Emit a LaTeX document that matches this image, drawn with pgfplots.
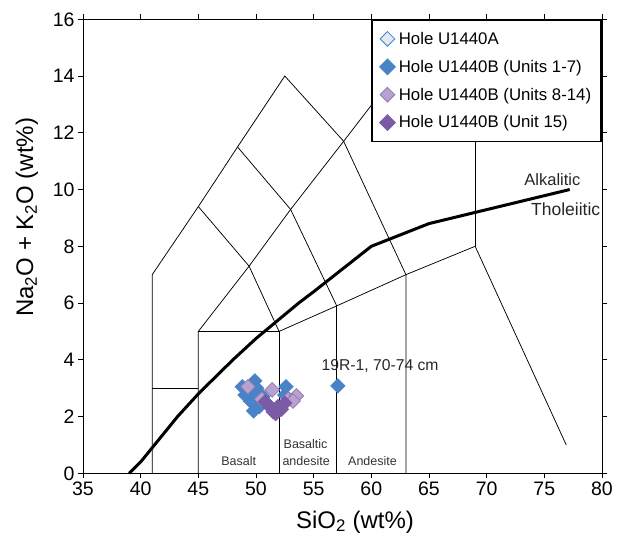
\documentclass[border=0pt]{standalone}
\usepackage{pgfplots}
\pgfplotsset{compat=1.18}
\usepackage{fontspec}
\setmainfont{Liberation Sans}
\definecolor{cblue}{HTML}{4783C6}
\definecolor{clpur}{HTML}{B7A2CF}
\definecolor{clpuredge}{HTML}{9179B4}
\definecolor{cdpur}{HTML}{7B5BA5}
\definecolor{cpale}{HTML}{E1E9F5}
\begin{document}
\begin{tikzpicture}
\begin{axis}[
  scale only axis,
  width=519pt, height=454pt,
  xmin=35, xmax=80, ymin=0, ymax=16,
  xtick={35,40,...,80}, ytick={0,2,...,16},
  tick align=outside, major tick length=5pt,
  tick style={black, line width=0.8pt},
  axis line style={line width=0.9pt},
  /pgf/number format/assume math mode=true,
  ticklabel style={font=\fontsize{19.5}{21}\selectfont},
  xlabel={SiO\textsubscript{2} (wt\%)},
  ylabel={Na\textsubscript{2}O + K\textsubscript{2}O (wt\%)},
  label style={font=\fontsize{24}{26}\selectfont},
  xlabel style={at={(axis description cs:0.524,-0.107)}, anchor=center},
  ylabel style={at={(axis description cs:-0.108,0.564)}, anchor=center, rotate=0},
  legend style={at={(1,1)}, anchor=north east, draw=black, line width=1.6pt, fill=white,
    font=\fontsize{16.8}{19}\selectfont, row sep=10.2pt, column sep=2pt, inner xsep=8pt, inner ysep=10pt},
  legend cell align=left,
  clip=false,
]
% TAS field boundaries
\addplot[black, line width=0.75pt, forget plot] coordinates {(41,0)(41,7)(45,9.4)(48.4,11.5)(52.5,14)(57.6,11.7)(63,7)(63,0)};
\addplot[black, line width=0.75pt, forget plot] coordinates {(45,0)(45,5)(49.4,7.3)(53,9.3)(57.6,11.7)(61,13.5)};
\addplot[black, line width=0.75pt, forget plot] coordinates {(41,3)(45,3)};
\addplot[black, line width=0.75pt, forget plot] coordinates {(45,9.4)(49.4,7.3)(52,5)};
\addplot[black, line width=0.75pt, forget plot] coordinates {(48.4,11.5)(53,9.3)(57,5.9)};
\addplot[black, line width=0.75pt, forget plot] coordinates {(45,5)(52,5)(52,0)};
\addplot[black, line width=0.75pt, forget plot] coordinates {(52,5)(57,5.9)(63,7)(69,8)(76.9,1)};
\addplot[black, line width=0.75pt, forget plot] coordinates {(57,0)(57,5.9)};
\addplot[black, line width=0.75pt, forget plot] coordinates {(69,8)(69,13)};
% Alkalic / tholeiitic divide
\addplot[black, line width=3pt, forget plot] coordinates {(39,0)(40,0.4)(43.2,2)(45,2.8)(48,4)(50,4.75)(53.7,6)(55,6.4)(60,8)(65,8.8)(77.2,10)};
% data
\addplot[only marks, mark=square*, mark size=5.2pt, mark options={rotate=45, fill=cpale, draw=cblue, line width=0.8pt}]
  coordinates {(49.6,2.8)};
\addlegendentry{Hole U1440A}
\addplot[only marks, mark=square*, mark size=5.2pt, mark options={rotate=45, fill=cblue, draw=cblue}]
  coordinates {(48.8,3.05)(49.9,3.26)(50.06,3.0)(49.05,2.76)(49.2,2.95)(49.6,2.85)(49.5,2.55)(49.9,2.45)(49.8,2.2)(50.3,2.35)(50.6,2.7)(52.6,3.05)(52.5,2.76)(57.1,3.08)};
\addlegendentry{Hole U1440B (Units 1-7)}
\addplot[only marks, mark=square*, mark size=5.2pt, mark options={rotate=45, fill=clpur, draw=clpuredge, line width=0.8pt}]
  coordinates {(49.3,3.05)(51.4,2.94)(50.5,2.61)(52.8,2.61)(53.5,2.73)(53.2,2.55)};
\addlegendentry{Hole U1440B (Units 8-14)}
\addplot[only marks, mark=square*, mark size=5.2pt, mark options={rotate=45, fill=cdpur, draw=cdpur}]
  coordinates {(51.5,2.17)(51.07,2.41)(51.9,2.35)(52.5,2.47)(50.8,2.52)(51.3,2.3)(52.2,2.25)(51.7,2.1)};
\addlegendentry{Hole U1440B (Unit 15)}
% annotations
\node[font=\fontsize{15.7}{17}\selectfont, text=black!85] at (axis cs:60.76,3.78) {19R-1, 70-74 cm};
\node[font=\fontsize{12.5}{14}\selectfont, text=black!80, anchor=base] at (axis cs:48.5,0.29) {Basalt};
\node[font=\fontsize{12.5}{14}\selectfont, text=black!80, anchor=base] at (axis cs:54.3,0.89) {Basaltic};
\node[font=\fontsize{12.5}{14}\selectfont, text=black!80, anchor=base] at (axis cs:54.35,0.29) {andesite};
\node[font=\fontsize{12.5}{14}\selectfont, text=black!80, anchor=base] at (axis cs:60.1,0.29) {Andesite};
\node[font=\fontsize{16.5}{18}\selectfont, text=black!85, anchor=base] at (axis cs:75.7,10.14) {Alkalitic};
\node[font=\fontsize{17.5}{19}\selectfont, text=black!85, anchor=base] at (axis cs:76.85,9.1) {Tholeiitic};
\end{axis}
\path ([xshift=-83pt,yshift=-68.7pt]current axis.south west) rectangle ([xshift=16pt,yshift=19.3pt]current axis.north east);
\end{tikzpicture}
\end{document}
